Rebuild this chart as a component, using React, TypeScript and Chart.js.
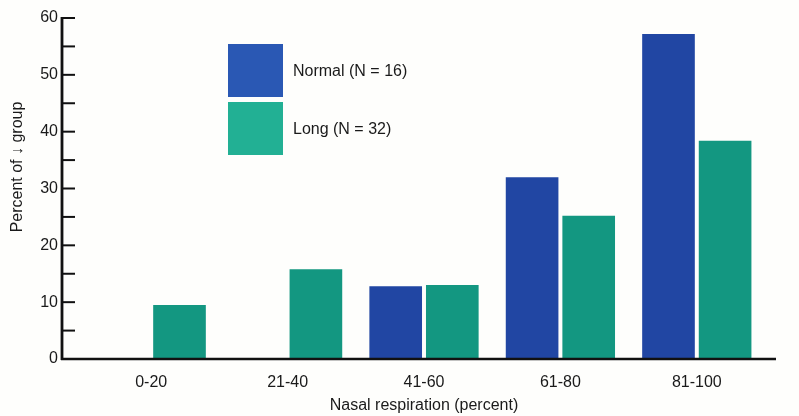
import React, { useEffect, useRef } from "react";
import { Chart, registerables } from "chart.js";

Chart.register(...registerables);

const categories = ["0-20", "21-40", "41-60", "61-80", "81-100"];
const normalValues = [0, 0, 12.8, 32.0, 57.2];
const longValues = [9.5, 15.8, 13.0, 25.2, 38.4];
const seriesLabels = ["Normal (N = 16)", "Long (N = 32)"];
const yTicks = [0, 10, 20, 30, 40, 50, 60];
const yMinorStep = 5;
const xTitle = "Nasal respiration (percent)";
const yTitle = "Percent of \u2193 group";

const BLUE = "#2146a3";
const GREEN = "#139781";
const LEGEND_BLUE = "#2a58b4";
const LEGEND_GREEN = "#22b094";
const FONT = "'Liberation Sans', Arial, Helvetica, sans-serif";
const INK = "#1a1a1a";
const FS = 16;

const axesPlugin = {
  id: "customAxes",
  afterDatasetsDraw(chart: any) {
    const { ctx, scales } = chart;
    const y = scales.y;
    const axisX = 62;
    const top = y.getPixelForValue(yTicks[yTicks.length - 1]);
    const bottom = y.getPixelForValue(0);
    ctx.save();
    ctx.strokeStyle = "#111";
    ctx.lineCap = "butt";
    ctx.lineWidth = 2.8;
    ctx.beginPath();
    ctx.moveTo(axisX, top - 1);
    ctx.lineTo(axisX, bottom + 1);
    ctx.stroke();
    ctx.lineWidth = 2;
    const maxV = yTicks[yTicks.length - 1];
    for (let v = yMinorStep; v <= maxV; v += yMinorStep) {
      const py = y.getPixelForValue(v);
      ctx.beginPath();
      ctx.moveTo(axisX, py);
      ctx.lineTo(axisX + 13, py);
      ctx.stroke();
    }
    ctx.lineWidth = 2.4;
    ctx.beginPath();
    ctx.moveTo(axisX - 1, bottom);
    ctx.lineTo(776, bottom);
    ctx.stroke();

    ctx.fillStyle = INK;
    ctx.font = `${FS}px ${FONT}`;
    ctx.textAlign = "center";
    ctx.textBaseline = "middle";
    ctx.translate(18, 167);
    ctx.rotate(-Math.PI / 2);
    ctx.fillText(yTitle, 0, 0);
    ctx.restore();

    ctx.save();
    const boxes = [
      { color: LEGEND_BLUE, label: chart.data.datasets[0].label, y: 44 },
      { color: LEGEND_GREEN, label: chart.data.datasets[1].label, y: 102 },
    ];
    ctx.font = `${FS}px ${FONT}`;
    ctx.textAlign = "left";
    ctx.textBaseline = "middle";
    for (const b of boxes) {
      ctx.fillStyle = b.color;
      ctx.fillRect(228, b.y, 55, 53);
      ctx.fillStyle = INK;
      ctx.fillText(b.label, 293, b.y + 28);
    }
    ctx.restore();
  },
};

export default function App() {
  const canvasRef = useRef<HTMLCanvasElement | null>(null);

  useEffect(() => {
    document.body.style.margin = "0";
    document.body.style.background = "#fefefc";
    const canvas = canvasRef.current;
    if (!canvas) return;
    const chart = new Chart(canvas, {
      type: "bar",
      data: {
        labels: categories,
        datasets: [
          {
            label: seriesLabels[0],
            data: normalValues,
            backgroundColor: BLUE,
            borderWidth: 0,
          },
          {
            label: seriesLabels[1],
            data: longValues,
            backgroundColor: GREEN,
            borderWidth: 0,
          },
        ],
      },
      options: {
        animation: false,
        responsive: false,
        maintainAspectRatio: false,
        devicePixelRatio: 1,
        layout: { padding: { top: 18, right: 34, bottom: 0, left: 15 } },
        plugins: {
          legend: { display: false },
          tooltip: { enabled: false },
        },
        datasets: {
          bar: { categoryPercentage: 0.83, barPercentage: 0.93 },
        },
        scales: {
          x: {
            type: "category",
            grid: { display: false, drawTicks: false },
            border: { display: false },
            afterFit: (scale: any) => {
              scale.height = 57;
            },
            ticks: {
              padding: 14,
              color: INK,
              font: { family: FONT, size: FS },
              maxRotation: 0,
            },
            title: {
              display: true,
              text: xTitle,
              color: INK,
              font: { family: FONT, size: FS },
              padding: { top: 4, bottom: 1 },
            },
          },
          y: {
            min: 0,
            max: 60,
            grid: { display: false, drawTicks: false },
            border: { display: false },
            afterBuildTicks: (scale: any) => {
              scale.ticks = yTicks.map((v) => ({ value: v }));
            },
            afterFit: (scale: any) => {
              scale.width = 68;
              scale.paddingTop = 10;
              scale.paddingBottom = 10;
            },
            ticks: {
              padding: 25,
              color: INK,
              font: { family: FONT, size: FS },
            },
          },
        },
      },
      plugins: [axesPlugin],
    });
    return () => chart.destroy();
  }, []);

  return (
    <div style={{ width: 799, height: 416, background: "#fefefc" }}>
      <canvas ref={canvasRef} width={799} height={416} style={{ display: "block" }} />
    </div>
  );
}
